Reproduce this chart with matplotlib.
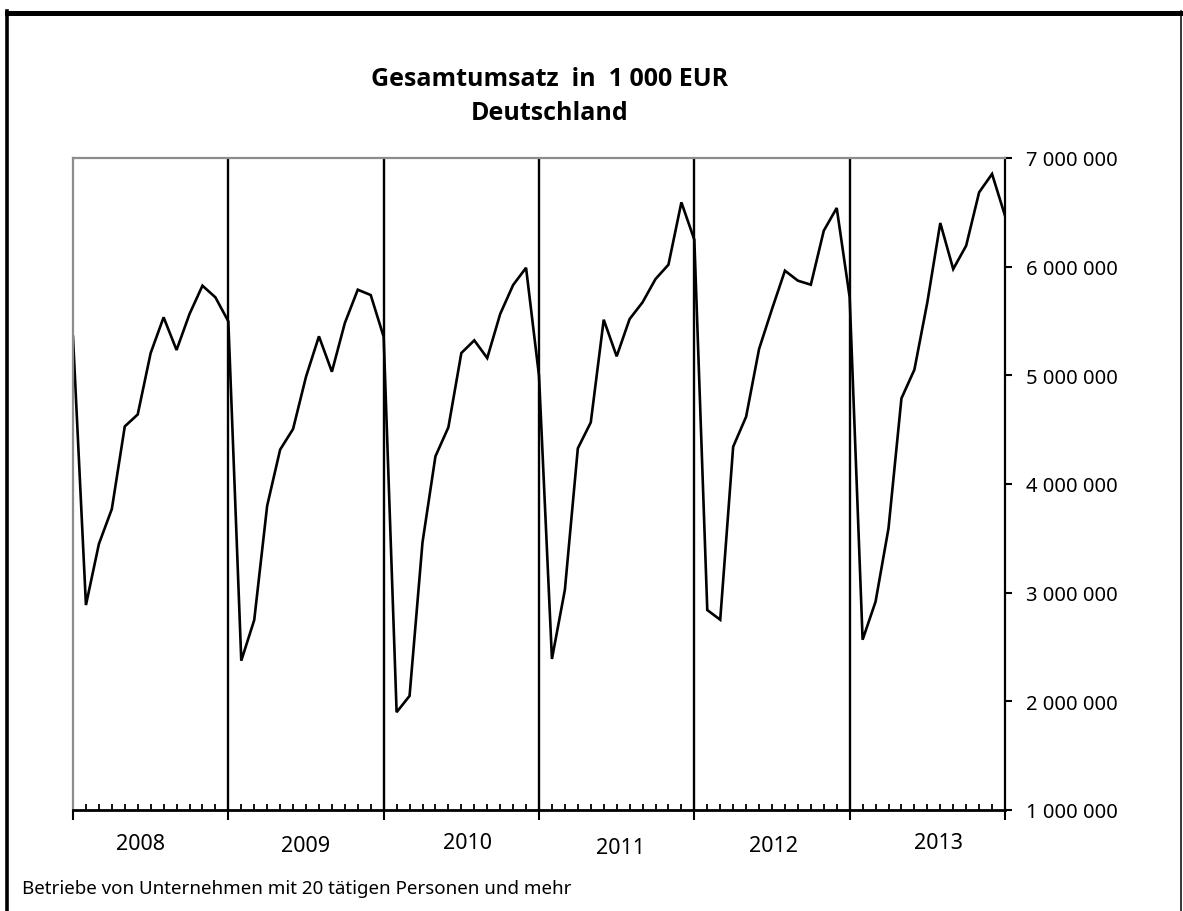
import matplotlib
matplotlib.use("Agg")
import matplotlib.pyplot as plt
from matplotlib.lines import Line2D
from matplotlib.ticker import FuncFormatter, MultipleLocator

# ---- data (Gesamtumsatz in 1 000 EUR), Dec 2007 .. Dec 2013 ----
years = ["2008", "2009", "2010", "2011", "2012", "2013"]
dec_2007 = [5355000]
v2008 = [2886000, 3448000, 3770000, 4530000, 4640000, 5205000, 5534000, 5233000, 5564000, 5825000, 5718000, 5497000]
v2009 = [2374000, 2748000, 3800000, 4316000, 4506000, 4987000, 5359000, 5033000, 5481000, 5788000, 5739000, 5355000]
v2010 = [1900000, 2050000, 3463000, 4255000, 4522000, 5205000, 5322000, 5159000, 5564000, 5831000, 5990000, 4997000]
v2011 = [2390000, 3027000, 4328000, 4567000, 5512000, 5175000, 5518000, 5672000, 5886000, 6018000, 6592000, 6248000]
v2012 = [2840000, 2751000, 4343000, 4619000, 5242000, 5610000, 5963000, 5871000, 5834000, 6331000, 6540000, 5718000]
v2013 = [2567000, 2917000, 3592000, 4788000, 5052000, 5672000, 6402000, 5978000, 6193000, 6684000, 6853000, 6469000]
values = dec_2007 + v2008 + v2009 + v2010 + v2011 + v2012 + v2013
y_ticks = [1000000, 2000000, 3000000, 4000000, 5000000, 6000000, 7000000]

title_line1 = "Gesamtumsatz  in  1 000 EUR"
title_line2 = "Deutschland"
footnote = "Betriebe von Unternehmen mit 20 tätigen Personen und mehr"

# ---- layout ----
W, H = 1183, 912
plt.rcParams['font.family'] = ['Noto Sans', 'DejaVu Sans']
fig = plt.figure(figsize=(W / 100, H / 100), dpi=100)
ax = fig.add_axes([73 / W, 1 - 811 / H, (1005 - 73) / W, (811 - 159) / H])

x = list(range(len(values)))
ax.plot(x, values, color='black', lw=1.9, solid_joinstyle='miter')

n_months = len(values) - 1
ax.set_xlim(0, n_months)
ax.set_ylim(y_ticks[0], y_ticks[-1])

# year separators
for k in range(1, len(years)):
    ax.axvline(12 * k, color='black', lw=1.7, zorder=1)

# spines
for side in ('left', 'top'):
    ax.spines[side].set_color('#8c8c8c')
    ax.spines[side].set_linewidth(1.6)
ax.spines['right'].set_color('black')
ax.spines['right'].set_linewidth(1.6)
ax.spines['bottom'].set_color('black')
ax.spines['bottom'].set_linewidth(2.0)

# y axis on the right
ax.yaxis.tick_right()
ax.set_yticks(y_ticks)
ax.yaxis.set_major_formatter(FuncFormatter(lambda v, p: f"{int(v):,}".replace(",", " ")))
ax.tick_params(axis='y', which='major', direction='out', length=5, width=1.5,
               labelsize=14.5, pad=10, colors='black', left=False, right=True)

# x axis ticks
ax.xaxis.set_major_locator(MultipleLocator(12))
ax.xaxis.set_minor_locator(MultipleLocator(1))
ax.tick_params(axis='x', which='major', direction='out', length=7.5, width=1.5, labelbottom=False)
ax.tick_params(axis='x', which='minor', direction='in', length=4.3, width=1.3)

# year labels (slightly staggered as in original)
year_x = [5.2, 18.0, 30.5, 42.3, 54.1, 66.9]
year_y_px = [845, 847, 844, 848.5, 846.5, 844]
for yr, xp, yp in zip(years, year_x, year_y_px):
    ax.text(xp, -(yp - 811) / 652, yr, transform=ax.get_xaxis_transform(),
            ha='center', va='center', fontsize=15.5)

# titles and footnote
title_font = ['Open Sans', 'Roboto', 'DejaVu Sans']
fig.text(550 / W, 1 - 80 / H, title_line1, ha='center', va='center', fontsize=18,
         fontweight='bold', family=title_font)
fig.text(550 / W, 1 - 114 / H, title_line2, ha='center', va='center', fontsize=18,
         fontweight='bold', family=title_font)
fig.text(22 / W, 1 - 889 / H, footnote, ha='left', va='center', fontsize=13.5)

# outer frame
fig.add_artist(Line2D([6.5 / W, 1181 / W], [1 - 13.5 / H, 1 - 13.5 / H], color='black', lw=3.6, transform=fig.transFigure))
fig.add_artist(Line2D([6.5 / W, 6.5 / W], [1 - 11.5 / H, 0], color='black', lw=2.6, transform=fig.transFigure))
fig.add_artist(Line2D([1180.5 / W, 1180.5 / W], [1 - 11.5 / H, 0], color='black', lw=1.1, transform=fig.transFigure))

fig.savefig("out.png", dpi=100, facecolor='white')
